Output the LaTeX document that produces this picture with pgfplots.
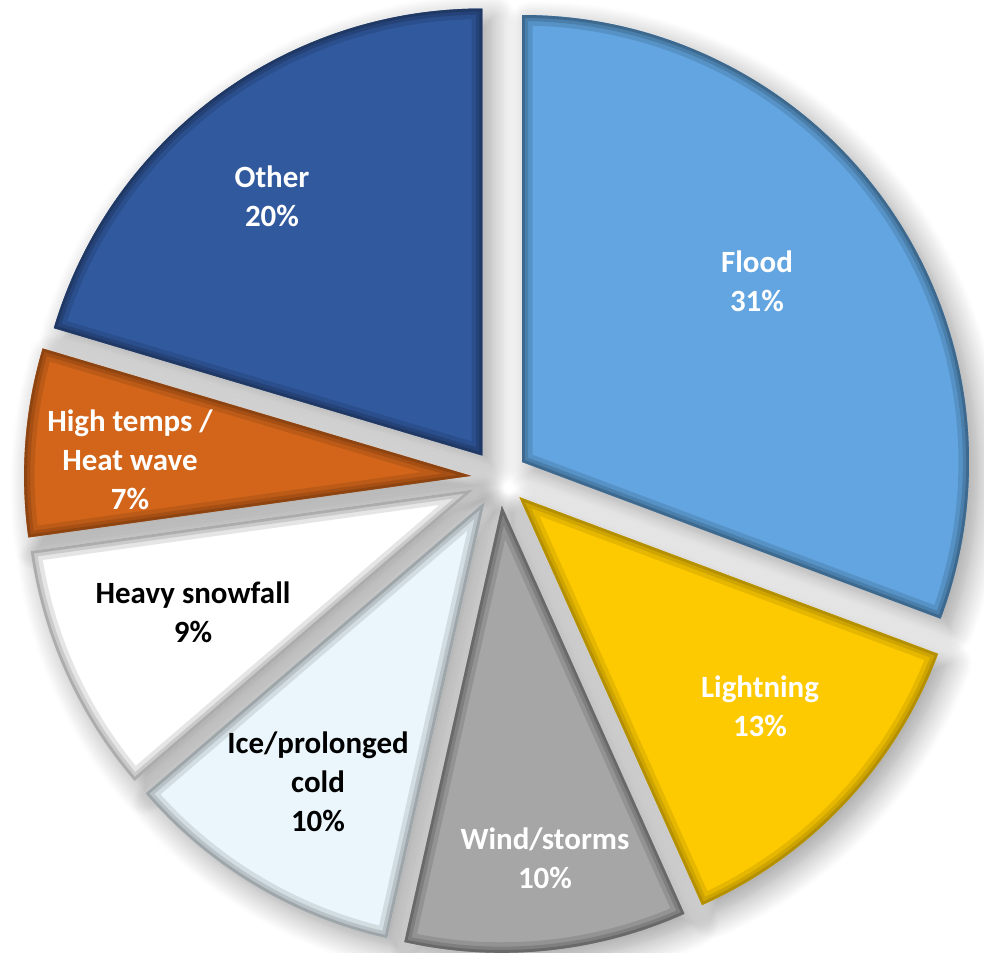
\documentclass[border=0pt]{standalone}
\usepackage{pgfplots}
\pgfplotsset{compat=1.18}
\usepackage{fontspec}
\setmainfont{Carlito}
\usetikzlibrary{shadows.blur}

\definecolor{cFlood}{HTML}{62A5E0}
\definecolor{cLight}{HTML}{FDC900}
\definecolor{cWind}{HTML}{A6A6A6}
\definecolor{cIce}{HTML}{EAF6FC}
\definecolor{cSnow}{HTML}{FFFFFF}
\definecolor{cHeat}{HTML}{D2651A}
\definecolor{cOther}{HTML}{31599E}

\tikzset{pieshadow/.style={blur shadow={shadow xshift=1.0mm, shadow yshift=-1.0mm, shadow opacity=38, shadow blur radius=2.4mm, shadow blur steps=14}}}

\newif\ifshadowpass
% #1 cumulative percent before slice, #2 percent, #3 colour, #4 edge colour
\newcommand{\slice}[4]{%
  \pgfmathsetmacro\sa{90-3.6*#1}%
  \pgfmathsetmacro\ea{90-3.6*(#1+#2)}%
  \pgfmathsetmacro\ma{(\sa+\ea)/2}%
  \edef\slicepath{([shift={(\ma:2.8mm)}]axis cs:499,475) -- ++(\sa:4.47cm)
    arc[start angle=\sa, end angle=\ea, radius=4.47cm] -- cycle}%
  \ifshadowpass
  \edef\temp{\noexpand\path[pieshadow] \slicepath;}%
  \else
  \edef\temp{%
  \noexpand\fill[#3] \slicepath;
  \noexpand\begin{scope}
  \noexpand\clip \slicepath;
  \noexpand\draw[#4, opacity=0.25, line width=6pt, line join=round] \slicepath;
  \noexpand\draw[#4, opacity=0.35, line width=3.5pt, line join=round] \slicepath;
  \noexpand\draw[#4, opacity=0.6, line width=1.6pt, line join=round] \slicepath;
  \noexpand\end{scope}
  }%
  \fi
  \temp
}
% shares (labels show the rounded values)
% Flood 30.7, Lightning 12.6, Wind/storms 10.2, Ice 10.2, Heavy snowfall 9.1, High temps 6.8, Other 20.4
\newcommand{\allslices}{%
\slice{0}{30.7}{cFlood}{cFlood!55!black}%
\slice{30.7}{12.6}{cLight}{cLight!65!black}%
\slice{43.3}{10.2}{cWind}{cWind!55!black}%
\slice{53.5}{10.2}{cIce}{cIce!60!black}%
\slice{63.7}{9.1}{cSnow}{cSnow!60!black}%
\slice{72.8}{6.8}{cHeat}{cHeat!60!black}%
\slice{79.6}{20.4}{cOther}{cOther!55!black}%
}

\begin{document}
\begin{tikzpicture}
\begin{axis}[
  x=0.1mm, y=0.1mm,
  xmin=0, xmax=984, ymin=0, ymax=953,
  hide axis, clip=false,
  scale only axis,
]
\shadowpasstrue
\allslices
\shadowpassfalse
\allslices

\tikzset{lab/.style={align=center, font=\bfseries\fontsize{8.8}{11.1}\selectfont}}
\node[lab, text=white] at (axis cs:757,672) {Flood\\31\%};
\node[lab, text=white] at (axis cs:760,247) {Lightning\\13\%};
\node[lab, text=white] at (axis cs:545,95) {Wind/storms\\10\%};
\node[lab, text=black] at (axis cs:318,171) {Ice/prolonged\\cold\\10\%};
\node[lab, text=black] at (axis cs:193,341) {Heavy snowfall\\9\%};
\node[lab, text=white] at (axis cs:130,493) {High temps /\\Heat wave\\7\%};
\node[lab, text=white] at (axis cs:272,757) {Other\\20\%};
\end{axis}
\pgfresetboundingbox
\path (current axis.south west) rectangle (current axis.north east);
\end{tikzpicture}
\end{document}
